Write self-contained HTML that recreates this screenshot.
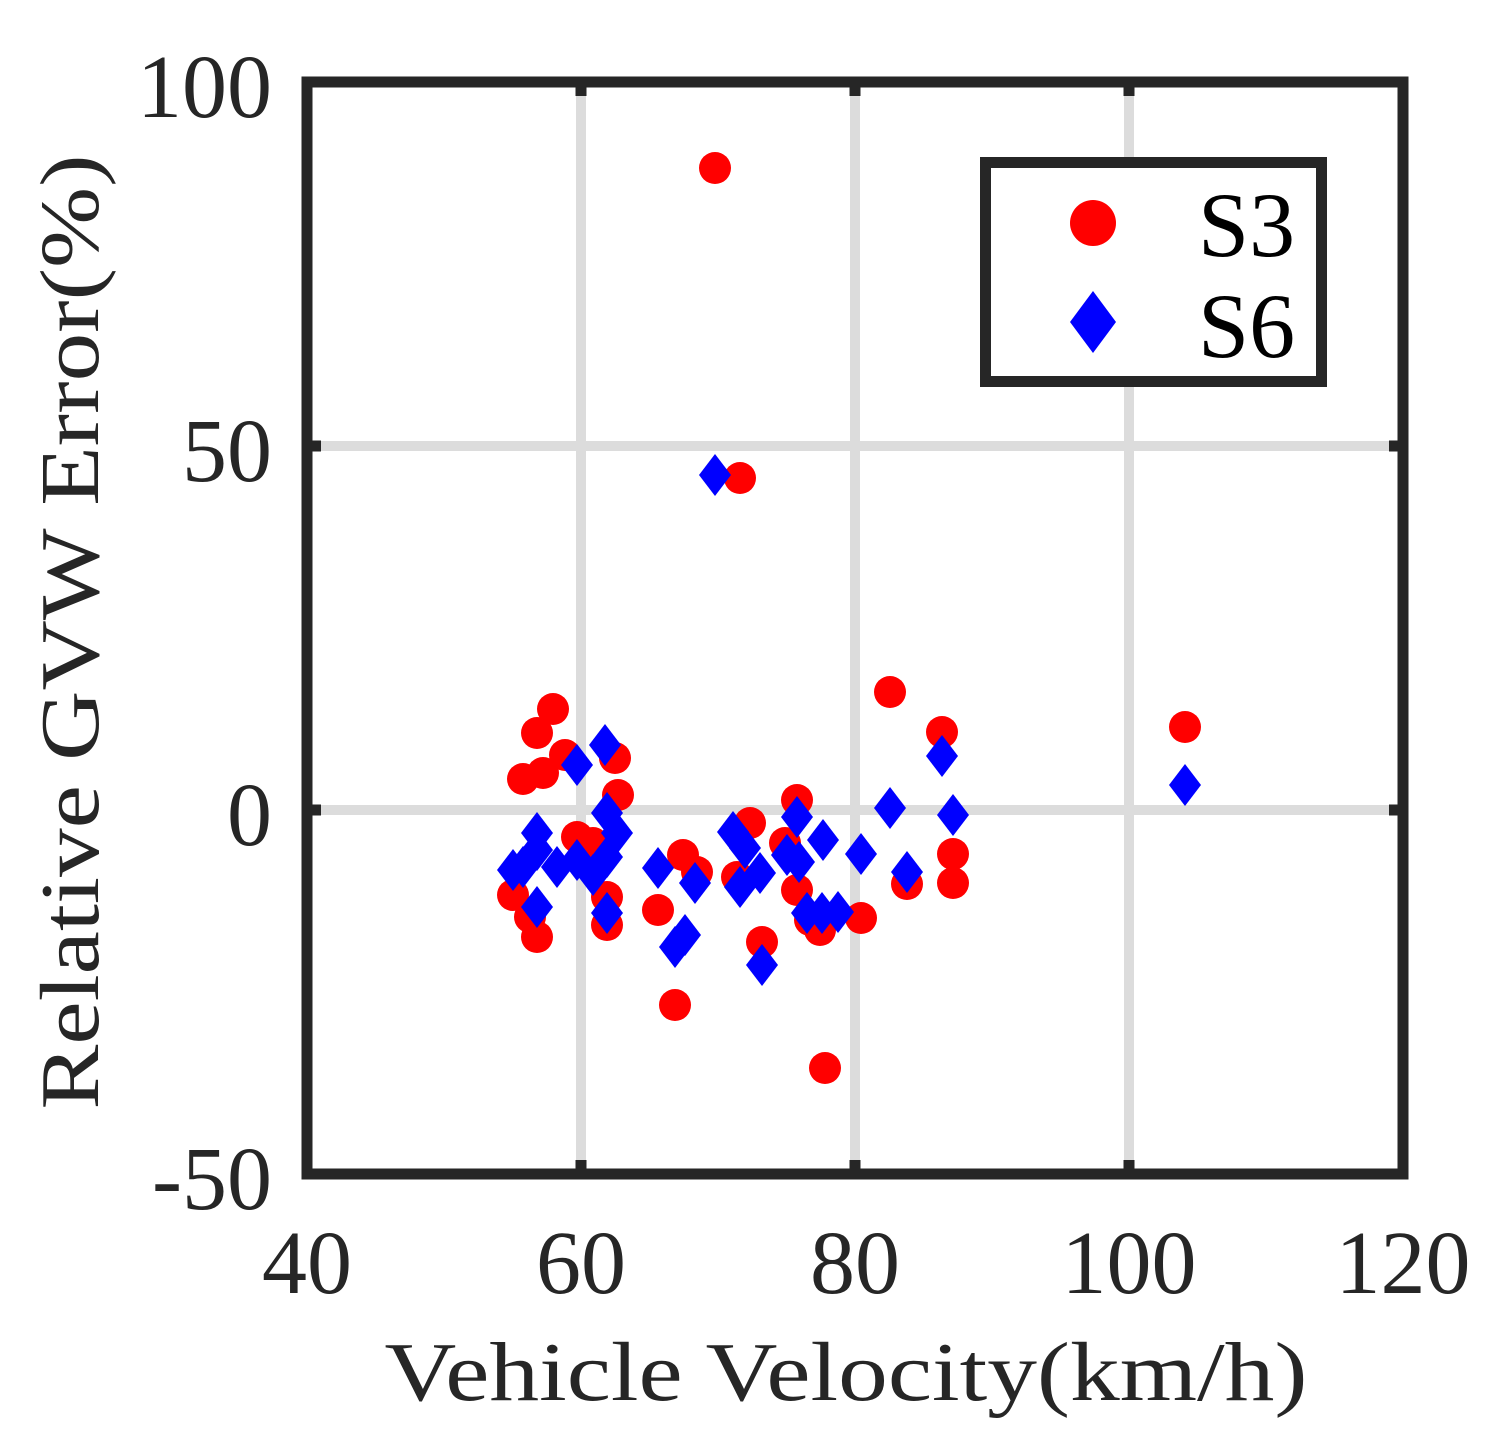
<!DOCTYPE html>
<html><head><style>html,body{margin:0;padding:0;background:#fff}</style></head>
<body>
<svg width="1511" height="1450" xmlns="http://www.w3.org/2000/svg" font-family="'Liberation Serif', serif">
<rect width="1511" height="1450" fill="#fff"/>
<g stroke="#dcdcdc" stroke-width="10">
<line x1="581" y1="82" x2="581" y2="1174"/>
<line x1="855" y1="82" x2="855" y2="1174"/>
<line x1="1129" y1="82" x2="1129" y2="1174"/>
<line x1="307" y1="446" x2="1403" y2="446"/>
<line x1="307" y1="810" x2="1403" y2="810"/>
</g>
<g fill="#f00">
<circle cx="715" cy="168" r="16"/><circle cx="740" cy="478" r="16"/>
<circle cx="553" cy="709" r="16"/><circle cx="537" cy="733" r="16"/><circle cx="565" cy="755" r="16"/>
<circle cx="523" cy="779" r="16"/><circle cx="543" cy="773" r="16"/><circle cx="615" cy="758" r="16"/>
<circle cx="618" cy="795" r="16"/><circle cx="577" cy="837" r="16"/><circle cx="593" cy="843" r="16"/>
<circle cx="513" cy="895" r="16"/><circle cx="530" cy="917" r="16"/><circle cx="537" cy="937" r="16"/>
<circle cx="607" cy="897" r="16"/><circle cx="607" cy="925" r="16"/><circle cx="683" cy="855" r="16"/>
<circle cx="697" cy="872" r="16"/><circle cx="658" cy="910" r="16"/><circle cx="675" cy="1005" r="16"/>
<circle cx="750" cy="823" r="16"/><circle cx="797" cy="800" r="16"/><circle cx="785" cy="843" r="16"/>
<circle cx="737" cy="877" r="16"/><circle cx="797" cy="890" r="16"/><circle cx="810" cy="920" r="16"/>
<circle cx="820" cy="930" r="16"/><circle cx="861" cy="918" r="16"/><circle cx="762" cy="942" r="16"/>
<circle cx="825" cy="1068" r="16"/><circle cx="890" cy="692" r="16"/><circle cx="942" cy="732" r="16"/>
<circle cx="953" cy="854" r="16"/><circle cx="953" cy="883" r="16"/><circle cx="907" cy="884" r="16"/>
<circle cx="1185" cy="727" r="16"/>
</g>
<g fill="#00f">
<path d="M0,-21 L16,0 L0,21 L-16,0Z" transform="translate(715,475)"/>
<path d="M0,-21 L16,0 L0,21 L-16,0Z" transform="translate(605,745)"/>
<path d="M0,-21 L16,0 L0,21 L-16,0Z" transform="translate(577,765)"/>
<path d="M0,-21 L16,0 L0,21 L-16,0Z" transform="translate(537,833)"/>
<path d="M0,-21 L16,0 L0,21 L-16,0Z" transform="translate(523,867)"/>
<path d="M0,-21 L16,0 L0,21 L-16,0Z" transform="translate(513,870)"/>
<path d="M0,-21 L16,0 L0,21 L-16,0Z" transform="translate(537,850)"/>
<path d="M0,-21 L16,0 L0,21 L-16,0Z" transform="translate(537,907)"/>
<path d="M0,-21 L16,0 L0,21 L-16,0Z" transform="translate(577,860)"/>
<path d="M0,-21 L16,0 L0,21 L-16,0Z" transform="translate(557,867)"/>
<path d="M0,-21 L16,0 L0,21 L-16,0Z" transform="translate(593,875)"/>
<path d="M0,-21 L16,0 L0,21 L-16,0Z" transform="translate(607,813)"/>
<path d="M0,-21 L16,0 L0,21 L-16,0Z" transform="translate(607,857)"/>
<path d="M0,-21 L16,0 L0,21 L-16,0Z" transform="translate(607,913)"/>
<path d="M0,-21 L16,0 L0,21 L-16,0Z" transform="translate(617,833)"/>
<path d="M0,-21 L16,0 L0,21 L-16,0Z" transform="translate(658,868)"/>
<path d="M0,-21 L16,0 L0,21 L-16,0Z" transform="translate(695,883)"/>
<path d="M0,-21 L16,0 L0,21 L-16,0Z" transform="translate(685,935)"/>
<path d="M0,-21 L16,0 L0,21 L-16,0Z" transform="translate(675,947)"/>
<path d="M0,-21 L16,0 L0,21 L-16,0Z" transform="translate(733,832)"/>
<path d="M0,-21 L16,0 L0,21 L-16,0Z" transform="translate(745,848)"/>
<path d="M0,-21 L16,0 L0,21 L-16,0Z" transform="translate(740,887)"/>
<path d="M0,-21 L16,0 L0,21 L-16,0Z" transform="translate(760,873)"/>
<path d="M0,-21 L16,0 L0,21 L-16,0Z" transform="translate(797,817)"/>
<path d="M0,-21 L16,0 L0,21 L-16,0Z" transform="translate(823,840)"/>
<path d="M0,-21 L16,0 L0,21 L-16,0Z" transform="translate(787,855)"/>
<path d="M0,-21 L16,0 L0,21 L-16,0Z" transform="translate(799,862)"/>
<path d="M0,-21 L16,0 L0,21 L-16,0Z" transform="translate(807,913)"/>
<path d="M0,-21 L16,0 L0,21 L-16,0Z" transform="translate(822,913)"/>
<path d="M0,-21 L16,0 L0,21 L-16,0Z" transform="translate(838,912)"/>
<path d="M0,-21 L16,0 L0,21 L-16,0Z" transform="translate(762,965)"/>
<path d="M0,-21 L16,0 L0,21 L-16,0Z" transform="translate(861,854)"/>
<path d="M0,-21 L16,0 L0,21 L-16,0Z" transform="translate(890,808)"/>
<path d="M0,-21 L16,0 L0,21 L-16,0Z" transform="translate(907,872)"/>
<path d="M0,-21 L16,0 L0,21 L-16,0Z" transform="translate(942,756)"/>
<path d="M0,-21 L16,0 L0,21 L-16,0Z" transform="translate(953,815)"/>
<path d="M0,-21 L16,0 L0,21 L-16,0Z" transform="translate(1185,785)"/>
</g>
<g stroke="#262626" stroke-width="11" fill="none">
<rect x="307" y="82" width="1096" height="1092"/>
<line x1="581" y1="82" x2="581" y2="96"/><line x1="855" y1="82" x2="855" y2="96"/><line x1="1129" y1="82" x2="1129" y2="96"/>
<line x1="581" y1="1174" x2="581" y2="1160"/><line x1="855" y1="1174" x2="855" y2="1160"/><line x1="1129" y1="1174" x2="1129" y2="1160"/>
<line x1="307" y1="446" x2="321" y2="446"/><line x1="307" y1="810" x2="321" y2="810"/>
<line x1="1403" y1="446" x2="1389" y2="446"/><line x1="1403" y1="810" x2="1389" y2="810"/>
</g>
<rect x="985.5" y="162.5" width="336" height="219" fill="#fff" stroke="#262626" stroke-width="11"/>
<circle cx="1093" cy="223" r="23" fill="#f00"/>
<path d="M1093,291 L1116,322 L1093,353 L1070,322Z" fill="#00f"/>
<g fill="#000" font-size="92">
<text x="1198" y="256">S3</text>
<text x="1198" y="357">S6</text>
</g>
<g fill="#262626" font-size="90">
<text x="272" y="117" text-anchor="end">100</text>
<text x="272" y="481" text-anchor="end">50</text>
<text x="272" y="845" text-anchor="end">0</text>
<text x="272" y="1209" text-anchor="end">-50</text>
<text x="307" y="1293" text-anchor="middle">40</text>
<text x="581" y="1293" text-anchor="middle">60</text>
<text x="855" y="1293" text-anchor="middle">80</text>
<text x="1129" y="1293" text-anchor="middle">100</text>
<text x="1403" y="1293" text-anchor="middle">120</text>
</g>
<text x="846" y="1400" text-anchor="middle" font-size="84" fill="#262626" textLength="923" lengthAdjust="spacingAndGlyphs">Vehicle Velocity(km/h)</text>
<text transform="translate(98,632) rotate(-90)" text-anchor="middle" font-size="84" fill="#262626" textLength="955" lengthAdjust="spacingAndGlyphs">Relative GVW Error(%)</text>
</svg>
</body></html>
